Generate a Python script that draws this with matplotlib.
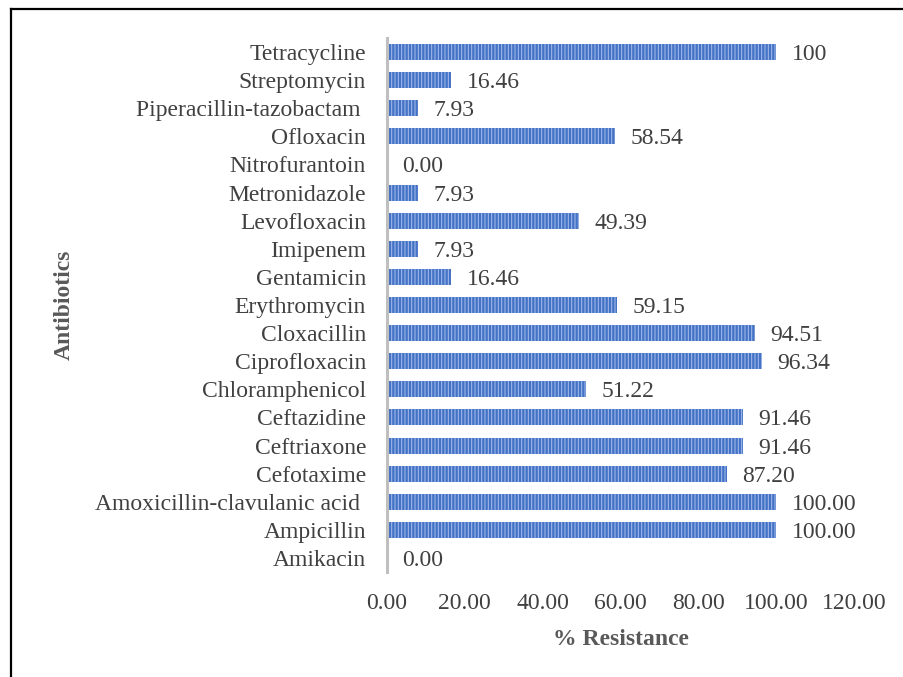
import numpy as np
import matplotlib.pyplot as plt
from matplotlib.lines import Line2D

plt.rcParams["font.family"] = ["Liberation Serif", "DejaVu Serif"]
plt.rcParams["hatch.linewidth"] = 0.75

# Data (bottom to top)
antibiotics = [
    "Amikacin", "Ampicillin", "Amoxicillin-clavulanic acid ", "Cefotaxime",
    "Ceftriaxone", "Ceftazidine", "Chloramphenicol", "Ciprofloxacin",
    "Cloxacillin", "Erythromycin", "Gentamicin", "Imipenem", "Levofloxacin",
    "Metronidazole", "Nitrofurantoin", "Ofloxacin", "Piperacillin-tazobactam ",
    "Streptomycin", "Tetracycline",
]
resistance = [0.00, 100.00, 100.00, 87.20, 91.46, 91.46, 51.22, 96.34, 94.51,
              59.15, 16.46, 7.93, 49.39, 7.93, 0.00, 58.54, 7.93, 16.46, 100]
value_labels = [f"{v:.2f}" for v in resistance[:-1]] + ["100"]
x_ticks = [0, 20, 40, 60, 80, 100, 120]

bar_color = "#4472C4"
stripe_color = "#A2BBEC"
text_color = "#404040"
title_color = "#595959"
FS = 17

fig = plt.figure(figsize=(9.04, 6.77), dpi=100)
ax = fig.add_axes([0.428, 0.155, 0.517, 0.789])

y = np.arange(len(antibiotics))
ax.barh(y, resistance, height=0.57, color=bar_color, edgecolor=stripe_color,
        hatch="|||||", linewidth=0)

for yi, v, lab in zip(y, resistance, value_labels):
    ax.text(v + 4.0, yi, lab, va="center_baseline", ha="left", fontsize=FS,
            color=text_color)

ax.set_xlim(0, 120)
ax.set_ylim(-0.5, len(antibiotics) - 0.5)
ax.set_yticks(y)
ax.set_yticklabels(antibiotics, fontsize=FS, color=text_color)
ax.set_xticks(x_ticks)
ax.set_xticklabels([f"{t:.2f}" for t in x_ticks], fontsize=FS, color=text_color)
ax.tick_params(axis="both", length=0)
ax.tick_params(axis="y", pad=15)
ax.tick_params(axis="x", pad=15)

for side in ["top", "right", "bottom"]:
    ax.spines[side].set_visible(False)
ax.spines["left"].set_color("#BFBFBF")
ax.spines["left"].set_linewidth(2.2)

ax.set_xlabel("% Resistance", fontsize=FS, fontweight="bold", color=title_color,
              labelpad=11)
fig.text(0.071, 0.55, "Antibiotics", rotation=90, ha="center", va="center",
         fontsize=FS, fontweight="bold", color=title_color)

# Outer frame (left and top edges)
fig.add_artist(Line2D([0.0125, 0.0125], [0.0, 0.987], color="black", lw=1.6,
                      transform=fig.transFigure))
fig.add_artist(Line2D([0.0125, 1.0], [0.987, 0.987], color="black", lw=1.6,
                      transform=fig.transFigure))

fig.savefig("out.png", dpi=100, facecolor="white")
